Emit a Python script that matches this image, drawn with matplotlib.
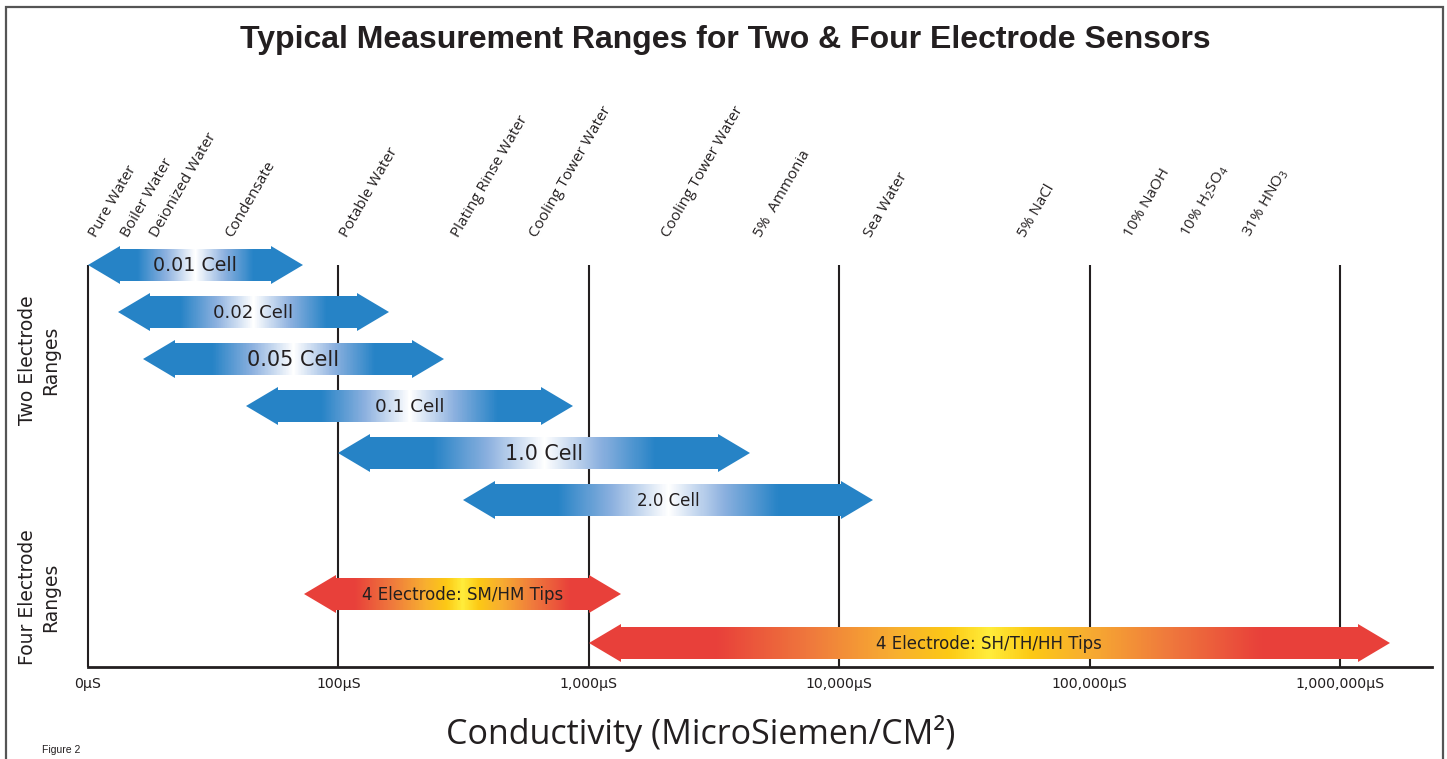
import numpy as np
import matplotlib
matplotlib.use('Agg')
import matplotlib.pyplot as plt
import matplotlib.transforms as mtransforms
from matplotlib.patches import Polygon, Rectangle
from matplotlib.colors import LinearSegmentedColormap
from matplotlib.ticker import NullLocator

# ==========================================
# DATA
# ==========================================
decade_ticks = [10, 100, 1000, 10000, 100000, 1000000]
decade_labels = ['0µS', '100µS', '1,000µS', '10,000µS', '100,000µS', '1,000,000µS']

sample_names = ['Pure Water', 'Boiler Water', 'Deionized Water', 'Condensate',
                'Potable Water', 'Plating Rinse Water', 'Cooling Tower Water',
                'Cooling Tower Water', '5%  Ammonia', 'Sea Water', '5% NaCl',
                '10% NaOH', r'10% H$_2$SO$_4$', r'31% HNO$_3$']
sample_values = [10, 13.4, 17.5, 35, 100, 279, 571, 1920, 4530, 12450,
                 51300, 136000, 229000, 406000]

two_labels = ['0.01 Cell', '0.02 Cell', '0.05 Cell', '0.1 Cell', '1.0 Cell', '2.0 Cell']
two_low = [10, 13.2, 16.6, 42.8, 100, 315]
two_high = [72, 159, 264, 865, 4400, 13650]

four_labels = ['4 Electrode: SM/HM Tips', '4 Electrode: SH/TH/HH Tips']
four_low = [73, 1000]
four_high = [1345, 1584000]

# ==========================================
# STYLE
# ==========================================
W, H = 1447, 759
TXT = '#231F20'
plt.rcParams['mathtext.fontset'] = 'custom'
plt.rcParams['mathtext.rm'] = 'Open Sans'
plt.rcParams['mathtext.it'] = 'Open Sans'

blue_cmap = LinearSegmentedColormap.from_list('bl', ['#2683C6', '#8DB1DF', '#FFFFFF'])
heat_cmap = LinearSegmentedColormap.from_list(
    'ht', [(0, '#E8403A'), (0.35, '#EF7A3C'), (0.65, '#F7AE30'),
           (0.85, '#FCC814'), (1.0, '#FFEC3A')])
two_sizes = [13.7, 13.1, 15, 13.2, 14.9, 12]
ROW = 47.0           # pixels per row unit
HEAD = 0.128         # arrow head length in decades
BODY = 0.33          # half height of arrow body (rows)
TIP = 0.40           # half height of arrow head (rows)

fig = plt.figure(figsize=(W / 100, H / 100), dpi=100)
ax_top_px = 200
ax = fig.add_axes([88 / W, (H - 667) / H, (1432 - 88) / W, (667 - ax_top_px) / H])
ax.set_xscale('log')
ax.set_xlim(10, 10 ** (1 + (1432 - 88) / 250.4))
ax.set_ylim(0, (667 - ax_top_px) / ROW)


def draw_arrow(x0, x1, yc, cmap, fade, label, size):
    l0, l1 = np.log10(x0), np.log10(x1)
    a, b = 10 ** (l0 + HEAD), 10 ** (l1 - HEAD)
    verts = [(x0, yc), (a, yc + TIP), (a, yc + BODY), (b, yc + BODY), (b, yc + TIP),
             (x1, yc), (b, yc - TIP), (b, yc - BODY), (a, yc - BODY), (a, yc - TIP)]
    poly = Polygon(verts, closed=True, facecolor='none', edgecolor='none')
    ax.add_patch(poly)
    xe = np.logspace(l0, l1, 400)
    mid = (np.log10(xe[:-1]) + np.log10(xe[1:])) / 2
    u = (mid - l0) / (l1 - l0)
    val = 1 - np.clip(np.abs(u - 0.5) / fade, 0, 1)
    mesh = ax.pcolormesh(xe, [yc - TIP, yc + TIP], val[None, :], cmap=cmap,
                         vmin=0, vmax=1, shading='flat', zorder=2)
    mesh.set_clip_path(poly)
    ax.text(10 ** ((l0 + l1) / 2), yc - 0.02, label, ha='center', va='center',
            fontsize=size, color=TXT, family='DejaVu Sans', zorder=3)


top_row = (667 - 265) / ROW
ax.vlines(decade_ticks, 0, top_row, color=TXT, lw=1.5, zorder=1, clip_on=False)

two_rows = [top_row - i for i in range(len(two_labels))]
for lo, hi, yc, lab, sz in zip(two_low, two_high, two_rows, two_labels, two_sizes):
    draw_arrow(lo, hi, yc, blue_cmap, 0.27, lab, sz)

four_rows = [(667 - 594) / ROW, (667 - 643) / ROW]
for lo, hi, yc, lab in zip(four_low, four_high, four_rows, four_labels):
    draw_arrow(lo, hi, yc, heat_cmap, 0.34, lab, 12)

# sample labels above the chart (small shift so the glyph foot sits on the value)
shift = ax.transData + mtransforms.ScaledTranslation(6 / 72, 0, fig.dpi_scale_trans)
for name, v in zip(sample_names, sample_values):
    ax.text(v, (667 - 238) / ROW, name, rotation=60, rotation_mode='anchor',
            ha='left', va='baseline', fontsize=11, color=TXT, family='Open Sans',
            transform=shift)

for s in ['left', 'right', 'top']:
    ax.spines[s].set_visible(False)
ax.spines['bottom'].set_linewidth(2)
ax.spines['bottom'].set_color(TXT)
ax.set_yticks([])
ax.set_xticks(decade_ticks)
ax.set_xticklabels(decade_labels, fontsize=10.2, color=TXT, family='DejaVu Sans')
ax.xaxis.set_minor_locator(NullLocator())
ax.tick_params(axis='x', length=0, pad=7.5)
ax.patch.set_alpha(0)

# ==========================================
# FIGURE TEXT & FRAME
# ==========================================
fig.text(725 / W, 1 - 40 / H, 'Typical Measurement Ranges for Two & Four Electrode Sensors',
         ha='center', va='center', fontsize=23, fontweight='bold', color=TXT,
         family='Liberation Sans')
fig.text(701 / W, 1 - 733 / H, 'Conductivity (MicroSiemen/CM²)', ha='center', va='center',
         fontsize=24.5, color=TXT, family='Open Sans')
fig.text(39 / W, 1 - 360 / H, 'Two Electrode\nRanges', rotation=90, ha='center', va='center',
         multialignment='center', linespacing=1.25, fontsize=13.5, color=TXT,
         family='DejaVu Sans')
fig.text(39 / W, 1 - 597 / H, 'Four Electrode\nRanges', rotation=90, ha='center', va='center',
         multialignment='center', linespacing=1.25, fontsize=13.5, color=TXT,
         family='DejaVu Sans')
fig.text(42 / W, 1 - 750 / H, 'Figure 2', ha='left', va='center', fontsize=7.5,
         color=TXT, family='Liberation Sans')

fig.add_artist(Rectangle((6 / W, -0.05), (1443 - 6) / W, 1.05 - 7 / H,
                         transform=fig.transFigure, fill=False, edgecolor='#555555',
                         lw=1.6))

fig.savefig('out.png', dpi=100)
